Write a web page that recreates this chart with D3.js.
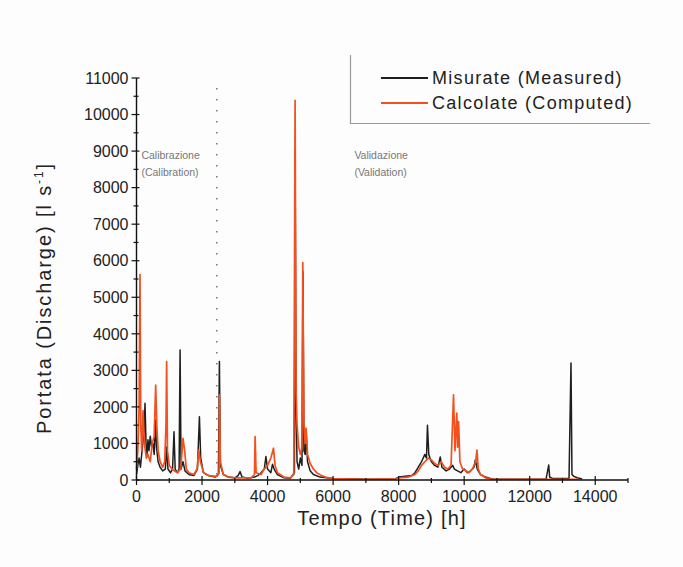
<!DOCTYPE html>
<html>
<head>
<meta charset="utf-8">
<script src="https://cdn.jsdelivr.net/npm/d3@7/dist/d3.min.js"></script>
<style>
  html, body { margin: 0; padding: 0; background: #fdfdfd; }
  svg { display: block; }
  text { font-family: "Liberation Sans", Arial, sans-serif; }
</style>
</head>
<body>
<svg id="chart" width="683" height="567"></svg>
<script>
// Hourly discharge: measured vs computed (key points of each hydrograph)
const measuredTime = [0,40,80,120,180,230,260,290,320,350,380,420,460,500,540,580,610,660,720,800,880,920,960,1040,1100,1145,1180,1250,1300,1330,1360,1420,1480,1600,1750,1860,1920,1960,2040,2200,2400,2500,2530,2560,2650,2800,3000,3100,3160,3220,3400,3600,3700,3800,3900,3950,4000,4100,4150,4200,4300,4500,4700,4820,4840,4870,4900,4950,5000,5050,5080,5110,5150,5175,5220,5300,5400,5600,6000,7000,7900,8000,8200,8400,8500,8600,8700,8800,8850,8880,8920,9000,9100,9200,9270,9320,9450,9550,9650,9700,9800,9900,10000,10100,10200,10300,10340,10400,10500,10650,10850,11500,12500,12580,12610,12700,13200,13260,13290,13350,13450,13600];
const measuredFlow = [150,400,600,350,900,1300,2100,1000,700,1100,800,1200,900,1000,700,1640,900,500,350,250,300,900,300,200,300,1320,300,200,300,3560,300,500,250,150,120,300,1730,600,200,120,80,150,3240,400,150,80,60,120,230,80,50,80,120,200,300,640,300,200,430,300,150,60,50,200,9000,1900,500,300,600,400,5700,800,700,1370,500,250,150,80,40,20,30,80,100,120,200,350,500,700,600,1500,700,500,400,350,630,350,250,300,400,300,250,200,300,200,250,350,550,300,150,80,30,20,30,410,80,40,40,3200,150,100,60,30];

const computedTime = [0,40,80,107,130,160,200,240,300,350,420,480,540,585,620,660,720,800,860,900,920,945,1000,1080,1150,1250,1350,1420,1470,1520,1600,1750,1850,1900,1950,2050,2200,2450,2520,2530,2560,2650,2800,3000,3200,3500,3600,3620,3650,3800,3900,4000,4100,4180,4230,4300,4500,4700,4800,4840,4870,4900,4950,5000,5050,5075,5110,5150,5175,5220,5300,5400,5500,5650,5800,6000,7000,7900,8000,8300,8500,8600,8700,8800,8900,9000,9100,9200,9300,9400,9500,9600,9675,9720,9775,9800,9830,9870,9950,10050,10150,10250,10350,10390,10430,10500,10650,10850,13500];
const computedFlow = [300,800,2000,5620,1500,800,1900,1000,600,700,500,1000,1200,2600,1500,800,500,350,500,1500,3240,800,400,300,250,200,300,1140,800,300,200,150,300,820,500,200,120,100,200,2330,500,150,80,60,60,60,150,1190,200,150,300,400,600,870,400,200,80,60,150,10390,2460,1500,900,700,900,5950,1500,1000,1420,700,450,300,200,120,70,40,20,30,60,80,150,250,400,500,600,550,450,400,500,350,300,400,2330,800,1830,900,1600,500,300,250,200,300,500,820,300,150,60,20,20];

const xTicks = [0,2000,4000,6000,8000,10000,12000,14000];
const yTicks = [0,1000,2000,3000,4000,5000,6000,7000,8000,9000,10000,11000];
const splitTime = 2450;  // end of the calibration period

const legendLabels = ["Misurate (Measured)", "Calcolate (Computed)"];
const seriesColors = ["#1e1e1e", "#f2501e"];

const svg = d3.select("#chart");
const x = d3.scaleLinear().domain([0, 15000]).range([136.5, 628]);
const y = d3.scaleLinear().domain([0, 11000]).range([480, 78]);

const toPoints = (t, v) => t.map((d, i) => [d, v[i]]);
const line = d3.line().x(d => x(d[0])).y(d => y(d[1]));

// calibration / validation divider
svg.append("line")
  .attr("x1", x(splitTime)).attr("x2", x(splitTime))
  .attr("y1", 88).attr("y2", 480)
  .attr("stroke", "#777").attr("stroke-width", 1.5)
  .attr("stroke-dasharray", "1.5,9.5");

// series
svg.append("path").datum(toPoints(measuredTime, measuredFlow))
  .attr("d", line).attr("fill", "none")
  .attr("stroke", seriesColors[0]).attr("stroke-width", 1.5)
  .attr("stroke-linejoin", "round");
svg.append("path").datum(toPoints(computedTime, computedFlow))
  .attr("d", line).attr("fill", "none")
  .attr("stroke", seriesColors[1]).attr("stroke-width", 1.7)
  .attr("stroke-linejoin", "round");

// axes
const xAxis = svg.append("g").attr("transform", "translate(0,480)");
xAxis.append("line").attr("x1", x(0)).attr("x2", x(15000))
  .attr("stroke", "#111").attr("stroke-width", 1.4);
d3.range(0, 15001, 1000).forEach(v => {
  const major = v % 2000 === 0;
  xAxis.append("line").attr("x1", x(v)).attr("x2", x(v))
    .attr("y1", major ? -4 : -2).attr("y2", major ? 5 : 3)
    .attr("stroke", "#111").attr("stroke-width", 1.2);
});
xAxis.selectAll("text.tick").data(xTicks).join("text")
  .attr("x", d => x(d)).attr("y", 22)
  .attr("text-anchor", "middle").attr("font-size", 16).attr("fill", "#222")
  .text(d => d);

const yAxis = svg.append("g").attr("transform", "translate(136.5,0)");
yAxis.append("line").attr("y1", y(0)).attr("y2", y(11000))
  .attr("stroke", "#111").attr("stroke-width", 1.4);
d3.range(0, 11001, 500).forEach(v => {
  const major = v % 1000 === 0;
  yAxis.append("line").attr("y1", y(v)).attr("y2", y(v))
    .attr("x1", major ? -5 : -3).attr("x2", major ? 3 : 2)
    .attr("stroke", "#111").attr("stroke-width", 1.2);
});
yAxis.selectAll("text.tick").data(yTicks).join("text")
  .attr("x", -8).attr("y", d => y(d)).attr("dy", "0.36em")
  .attr("text-anchor", "end").attr("font-size", 16).attr("fill", "#222")
  .text(d => d);

// axis titles
svg.append("text").attr("x", 382).attr("y", 525)
  .attr("text-anchor", "middle").attr("font-size", 20).attr("fill", "#222")
  .attr("letter-spacing", 1.2)
  .text("Tempo (Time) [h]");
const yt = svg.append("text")
  .attr("transform", "translate(51,298) rotate(-90)")
  .attr("text-anchor", "middle").attr("font-size", 20).attr("fill", "#222")
  .attr("letter-spacing", 1.9);
yt.append("tspan").text("Portata (Discharge) [l s");
yt.append("tspan").attr("font-size", 12).attr("dy", -8).text("-1");
yt.append("tspan").attr("dy", 8).text("]");

// period annotations
const notes = [
  { t: 150, lines: ["Calibrazione", "(Calibration)"] },
  { t: 6650, lines: ["Validazione", "(Validation)"] }
];
notes.forEach(n => {
  n.lines.forEach((s, i) => {
    svg.append("text").attr("x", x(n.t)).attr("y", 159 + i * 17)
      .attr("font-size", 10.5).attr("fill", "#777").text(s);
  });
});

// legend
const lg = svg.append("g");
lg.append("path").attr("d", "M350.5,55 V123.5 H650")
  .attr("fill", "none").attr("stroke", "#999").attr("stroke-width", 1.2);
legendLabels.forEach((s, i) => {
  const yy = 78 + i * 25;
  lg.append("line").attr("x1", 381).attr("x2", 428).attr("y1", yy).attr("y2", yy)
    .attr("stroke", seriesColors[i]).attr("stroke-width", 1.8);
  lg.append("text").attr("x", 432).attr("y", yy).attr("dy", "0.36em")
    .attr("font-size", 18).attr("fill", "#222").attr("letter-spacing", 1.3)
    .text(s);
});
</script>
</body>
</html>
